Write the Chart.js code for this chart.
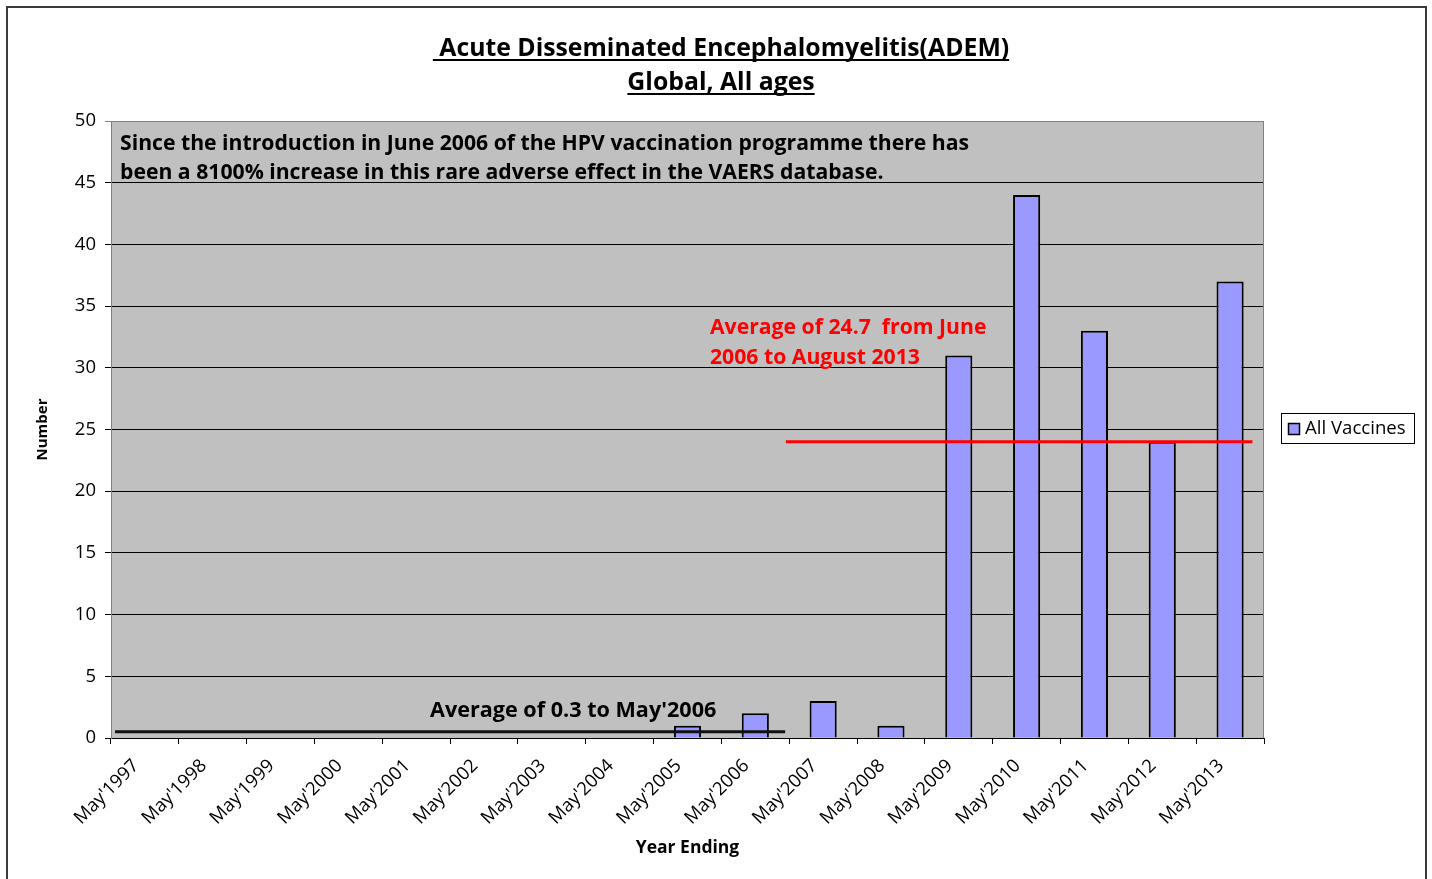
<!DOCTYPE html>
<html>
<head>
<meta charset="utf-8">
<script src="https://cdn.jsdelivr.net/npm/chart.js@4.4.1/dist/chart.umd.min.js"></script>
<style>
  html, body { margin: 0; padding: 0; background: #fff; overflow: hidden; }
  #wrap { position: relative; width: 1432px; height: 879px; }
  #frame { position: absolute; left: 6px; top: 6px; width: 1417px; height: 900px;
           border: 2px solid #3a3a3a; pointer-events: none; }
  canvas { position: absolute; left: 0; top: 0; }
</style>
</head>
<body>
<div id="wrap">
  <canvas id="chart" width="1432" height="879"></canvas>
  <div id="frame"></div>
</div>
<script>
const yearLabels = ["May'1997", "May'1998", "May'1999", "May'2000", "May'2001", "May'2002",
  "May'2003", "May'2004", "May'2005", "May'2006", "May'2007", "May'2008", "May'2009",
  "May'2010", "May'2011", "May'2012", "May'2013"];
const allVaccines = [0, 0, 0, 0, 0, 0, 0, 0, 1, 2, 3, 1, 31, 44, 33, 24, 37];
const yTicks = [0, 5, 10, 15, 20, 25, 30, 35, 40, 45, 50];

// average lines, as drawn on the chart
const avgBefore = 0.5;
const avgAfter = 24;

const titleLines = [" Acute Disseminated Encephalomyelitis(ADEM)", "Global, All ages"];
const noteLines = ["Since the introduction in June 2006 of the HPV vaccination programme there has",
  "been a 8100% increase in this rare adverse effect in the VAERS database."];
const redNote = ["Average of 24.7  from June", "2006 to August 2013"];
const blackNote = "Average of 0.3 to May'2006";

const FONT = "'Open Sans', 'Noto Sans', sans-serif";
const BAR = "#9999FF";

const decor = {
  id: "decor",
  beforeDraw(chart) {
    const { ctx, chartArea: a } = chart;
    ctx.save();
    ctx.fillStyle = "#C0C0C0";
    ctx.fillRect(a.left, a.top, a.right - a.left, a.bottom - a.top);
    ctx.restore();
  },
  afterDatasetsDraw(chart) {
    const { ctx, chartArea: a, scales: { x, y } } = chart;
    ctx.save();

    // plot border top / right
    ctx.strokeStyle = "#808080";
    ctx.lineWidth = 1;
    ctx.beginPath();
    ctx.moveTo(a.left, a.top + 0.5);
    ctx.lineTo(a.right - 0.5, a.top + 0.5);
    ctx.lineTo(a.right - 0.5, a.bottom);
    ctx.stroke();

    // average lines
    ctx.lineWidth = 3;
    ctx.strokeStyle = "#111";
    ctx.beginPath();
    ctx.moveTo(x.getPixelForValue(-0.44), y.getPixelForValue(avgBefore));
    ctx.lineTo(x.getPixelForValue(9.44), y.getPixelForValue(avgBefore));
    ctx.stroke();
    ctx.strokeStyle = "#FF0000";
    ctx.beginPath();
    ctx.moveTo(x.getPixelForValue(9.45), y.getPixelForValue(avgAfter));
    ctx.lineTo(x.getPixelForValue(16.33), y.getPixelForValue(avgAfter));
    ctx.stroke();

    // notes
    ctx.textAlign = "left";
    ctx.textBaseline = "alphabetic";
    ctx.font = "bold 21.2px " + FONT;
    ctx.fillStyle = "#000";
    ctx.fillText(noteLines[0], a.left + 9, 150);
    ctx.fillText(noteLines[1], a.left + 9, 179);
    ctx.fillStyle = "#FF0000";
    ctx.fillText(redNote[0], 710, 334);
    ctx.fillText(redNote[1], 710, 364);
    ctx.fillStyle = "#000";
    ctx.font = "bold 21.6px " + FONT;
    ctx.fillText(blackNote, 430, 717);

    // title with underline
    ctx.font = "bold 24.8px " + FONT;
    ctx.textAlign = "center";
    const cx = 721;
    [[titleLines[0], 56], [titleLines[1], 90]].forEach(([t, by]) => {
      ctx.fillText(t, cx, by);
      const w = ctx.measureText(t).width;
      ctx.fillRect(cx - w / 2, by + 3, w, 2);
    });

    // legend
    ctx.fillStyle = "#fff";
    ctx.fillRect(1281, 413, 133, 30);
    ctx.strokeStyle = "#000";
    ctx.lineWidth = 1;
    ctx.strokeRect(1281.5, 413.5, 133, 30);
    ctx.fillStyle = BAR;
    ctx.fillRect(1288, 423, 11, 11);
    ctx.lineWidth = 1.5;
    ctx.strokeRect(1288.5, 423.5, 11, 11);
    ctx.fillStyle = "#000";
    ctx.textAlign = "left";
    ctx.textBaseline = "middle";
    ctx.font = "18.6px " + FONT;
    ctx.fillText(chart.data.datasets[0].label, 1305, 429);
    ctx.restore();
  }
};

new Chart(document.getElementById("chart"), {
  type: "bar",
  data: {
    labels: yearLabels,
    datasets: [{
      label: "All Vaccines",
      data: allVaccines,
      backgroundColor: BAR,
      borderColor: "#000",
      borderWidth: 2,
      categoryPercentage: 1,
      barPercentage: 0.4
    }]
  },
  options: {
    responsive: false,
    animation: false,
    layout: { padding: { left: 25, top: 121, right: 168, bottom: 0 } },
    plugins: { legend: { display: false }, tooltip: { enabled: false } },
    scales: {
      x: {
        offset: true,
        grid: { offset: true, drawOnChartArea: false, drawTicks: true, tickLength: 6, color: "#000" },
        border: { color: "#000", width: 1 },
        ticks: { color: "#000", font: { family: FONT, size: 18.5 }, minRotation: 45, maxRotation: 45,
                 padding: 11, labelOffset: -9, autoSkip: false },
        title: { display: true, text: "Year Ending", color: "#000", font: { family: FONT, size: 17.5, weight: "bold" }, padding: { top: 0, bottom: 20 } },
        afterFit: s => { s.height = 141; }
      },
      y: {
        min: 0,
        max: 50,
        afterBuildTicks: s => { s.ticks = yTicks.map(v => ({ value: v })); },
        grid: { color: c => (c.tick && c.tick.value === 50 ? "#808080" : "#000"), lineWidth: 1, tickLength: 6 },
        border: { color: "#808080", width: 1 },
        ticks: { color: "#000", font: { family: FONT, size: 18.5 }, padding: 9 },
        title: { display: true, text: "Number", color: "#000", font: { family: FONT, size: 15, weight: "bold" }, padding: { top: 9, bottom: 0 } },
        afterFit: s => { s.width = 86; }
      }
    }
  },
  plugins: [decor]
});
</script>
</body>
</html>
